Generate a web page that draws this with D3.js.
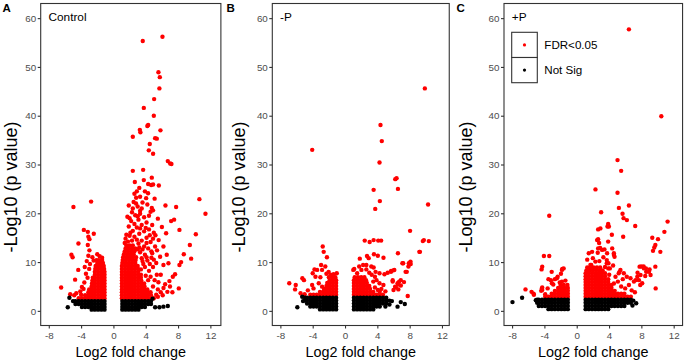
<!DOCTYPE html>
<html><head><meta charset="utf-8">
<script src="https://cdn.jsdelivr.net/npm/d3@7"></script>
<style>body{margin:0;background:#fff}svg{display:block}text{font-family:'Liberation Sans',Arial,Helvetica,sans-serif}</style>
</head><body>
<svg id="chart" width="685" height="362"></svg>
<script>
// ---------------- data ----------------
const xTicks = [-8, -4, 0, 4, 8, 12];
const yTicks = [0, 10, 20, 30, 40, 50, 60];
const panelLetters = ["A", "B", "C"];
const panelTitles = ["Control", "-P", "+P"];
const legendLabels = ["FDR<0.05", "Not Sig"];
const xLabel = "Log2 fold change";
const yLabel = "-Log10 (p value)";

// Dense regions are written as rows: [log10p, log2FC, log2FC, ...]
// Panel A – Control
const ctrlNSRows = [
 [0.25, -1.1,-1.5,-1.9,-2.3,-2.7, 1.1,1.5,1.9,2.3,2.7,3.1],
 [0.8, -1.1,-1.5,-1.9,-2.3,-2.7,-3.1,-3.5,-3.9, 1.1,1.5,1.9,2.3,2.7,3.1,3.5,3.9],
 [1.4, -1.1,-1.5,-1.9,-2.3,-2.7,-3.1,-3.5,-3.9,-4.3,-4.7, 1.1,1.5,1.9,2.3,2.7,3.1,3.5,3.9,4.3,4.65],
 [2.0, -1.1,-1.5,-1.9,-2.3,-2.7,-3.1,-3.5,-3.9,-4.3,-4.7,-5.0, 1.1,1.5,1.9,2.3,2.7,3.1,3.5,3.9,4.3,4.65]
];
const ctrlNSPts = [[-5.45,2.7],[-5.65,0.75],[4.85,2.5],[5.16,0.74],[5.69,0.74],[6.19,0.86],[6.73,1.0]];
const ctrlSigRows = [
 [2.6, -1.1,-1.5,-1.9,-2.3,-2.7,-3.1,-3.5,-3.9,-4.3, 1.05,1.45,1.85,2.25,2.65,3.05,3.45,3.85,4.25,4.65,5.0],
 [3.2, -1.1,-1.5,-1.9,-2.3,-2.7,-3.1,-3.5, 1.05,1.45,1.85,2.25,2.65,3.05,3.45,3.85,4.25,4.65],
 [3.8, -1.1,-1.5,-1.9,-2.3,-2.7,-3.1, 1.05,1.45,1.85,2.25,2.65,3.05,3.45,3.85,4.25,4.6],
 [4.4, -1.1,-1.5,-1.9,-2.3,-2.7,-3.0, 1.05,1.45,1.85,2.25,2.65,3.05,3.45,3.85,4.2],
 [5.0, -1.1,-1.5,-1.9,-2.3,-2.7, 1.05,1.45,1.85,2.25,2.65,3.05,3.45,3.85],
 [5.6, -1.1,-1.5,-1.9,-2.3,-2.65, 1.05,1.45,1.85,2.25,2.65,3.05,3.45,3.8],
 [6.2, -1.1,-1.5,-1.9,-2.3,-2.6, 1.05,1.45,1.85,2.25,2.65,3.05,3.45],
 [6.8, -1.1,-1.5,-1.9,-2.3,-2.55, 1.05,1.45,1.85,2.25,2.65,3.05,3.4],
 [7.4, -1.1,-1.5,-1.9,-2.3, 1.05,1.45,1.85,2.25,2.65,3.05,3.4],
 [8.0, -1.1,-1.5,-1.9,-2.3, 1.05,1.45,1.85,2.25,2.65,3.05],
 [8.6, -1.15,-1.5,-1.9,-2.25, 1.05,1.45,1.85,2.25,2.65,3.05],
 [9.2, -1.2,-1.55,-1.9,-2.2, 1.05,1.45,1.85,2.25,2.65,3.0],
 [9.8, -1.3,-1.65,-2.0, 1.1,1.5,1.9,2.3,2.7],
 [10.4, -1.4,-1.8,-2.1, 1.15,1.55,1.95,2.35,2.75],
 [11.0, 1.2,1.6,2.0,2.4,2.8],
 [11.6, 1.3,1.7,2.1,2.5],
 [12.2, 1.4,1.8,2.2,2.6],
 [12.8, 1.5,1.9,2.3,2.7],
 [13.4, 1.6,2.0,2.4]
];
const ctrlSigPts = [
 [-4.95,21.3],[-2.76,22.4],[-3.66,16.6],[-3.17,16.2],[-2.43,15.8],[-2.97,14.7],[-3.17,13.5],[-4.33,13.8],[-2.97,12.4],[-3.1,15.2],
 [-5.2,11.5],[-5.05,11.0],[-4.35,8.4],[-4.74,6.4],[-6.47,4.8],[-3.1,11.3],[-2.6,11.0],[-1.7,11.2],[-2.0,11.6],[-3.3,10.2],
 [-2.9,9.6],[-3.0,8.6],[-3.4,7.6],[-3.2,6.8],[-3.6,5.8],[-3.9,4.9],[-4.1,4.0],[-3.7,4.5],[-4.6,3.6],[-4.85,3.2],[-5.35,3.4],
 [-4.0,3.3],[-1.4,10.9],[-2.45,10.3],[-3.55,9.0],
 [3.4,8.5],[3.7,9.6],[3.5,10.8],[3.9,11.5],[3.3,12.0],[4.2,10.3],[4.4,8.2],[4.0,7.2],[4.3,6.3],[3.8,13.2],[3.1,13.8],[2.9,14.6],
 [3.5,14.4],[2.3,14.4],[1.8,14.2],[2.6,15.2],[2.0,15.4],[3.2,15.8],[4.1,15.0],[4.6,14.1],[3.8,16.3],[2.4,16.4],[2.9,17.1],[1.9,17.3],
 [3.5,17.6],[4.4,16.7],[2.2,18.4],[3.1,18.7],[2.7,19.6],[3.8,19.2],[4.1,18.1],[1.73,19.3],[2.3,20.2],[3.3,20.5],[4.6,20.3],[3.0,21.4],
 [2.5,22.3],[3.6,22.2],[4.75,21.1],[4.9,20.6],[2.81,23.2],[3.3,23.4],[4.05,23.1],[2.9,24.5],[4.29,24.1],[4.67,25.8],[4.91,25.9],
 [5.62,25.7],[2.65,26.4],[3.76,26.8],[4.75,27.3],[2.4,28.7],[3.68,28.9],[6.73,30.7],[7.02,30.2],[7.18,30.1],[4.38,32.9],[4.91,32.2],
 [4.5,34.2],[5.16,35.4],[5.37,35.3],[2.4,35.7],[3.27,37.1],[3.34,36.6],[5.82,37.0],[4.3,38.1],[4.2,37.9],[5.0,40.0],[3.76,41.6],
 [5.04,43.4],[5.69,45.6],[5.74,47.9],[5.57,48.9],[3.63,55.3],[6.07,56.2],
 [10.64,22.9],[6.44,21.6],[7.76,21.3],[11.39,19.9],[7.14,18.4],[7.51,18.7],[8.17,16.6],[6.52,15.9],[10.2,15.7],[9.46,13.5],
 [8.71,11.6],[9.62,10.7],[8.17,9.4],[8.38,10.0],[8.09,4.6],[5.16,13.2],[6.19,13.2],[5.78,11.1],[6.6,11.5],[6.19,9.4],[6.81,9.75],
 [5.37,7.4],[5.86,7.4],[5.57,5.86],[6.4,5.45],[6.93,6.1],[7.35,6.99],[7.63,7.5],[5.86,3.8],[6.68,3.9],[5.3,3.3],[5.5,4.4],[4.9,5.0],
 [5.1,6.3],[4.6,7.0],[4.9,9.0],[5.3,9.8],[4.8,11.8],[5.4,12.4],[5.6,14.5],[5.0,16.0],[6.0,17.2],[7.0,5.0],[6.2,4.7],[7.3,3.8],
 [5.5,2.9],[6.1,3.2],
 [1.5,14.8],[2.1,16.0],[1.6,15.6],[2.6,17.8],[3.3,16.9],[4.0,17.0],[3.0,19.4],[2.0,19.0],[3.5,21.0],[2.8,22.0],[4.2,21.8],
 [4.4,19.5],[1.4,13.9],[3.2,13.0],[3.6,12.6],[4.3,12.8],[4.7,12.2],[3.0,12.6],[4.1,13.9],[4.9,14.8],[5.2,15.5],[4.5,15.5],
 [3.3,19.9],[2.4,21.0],[1.9,21.6],[2.6,24.0],[3.9,24.5],[3.2,25.2],[4.3,26.0],[5.1,23.0],[4.8,17.6],[5.5,18.9],[3.6,10.2],
 [3.9,9.0],[4.5,9.6],[4.1,11.0],[5.0,10.5],[4.7,10.9]
];

// Panel B – -P
const minusNSRows = [
 [0.3, -1.1,-1.5,-1.9,-2.3,-2.7,-3.1, 1.1,1.5,1.9,2.3,2.7,3.1,3.5],
 [0.9, -1.1,-1.5,-1.9,-2.3,-2.7,-3.1,-3.5,-3.9,-4.3, 1.1,1.5,1.9,2.3,2.7,3.1,3.5,3.9,4.3],
 [1.5, -1.1,-1.5,-1.9,-2.3,-2.7,-3.1,-3.5,-3.9,-4.3,-4.7, 1.1,1.5,1.9,2.3,2.7,3.1,3.5,3.9,4.3,4.7,5.1],
 [2.1, -1.1,-1.5,-1.9,-2.3,-2.7,-3.1,-3.5,-3.9,-4.3,-4.7,-4.95, 1.1,1.5,1.9,2.3,2.7,3.1,3.5,3.9,4.3,4.7,5.1,5.5],
 [2.7, -1.1,-1.5,-1.9,-2.3,-2.7,-3.1,-3.5,-3.9,-4.3,-4.7,-4.95, 1.1,1.5,1.9,2.3,2.7,3.1,3.5,3.9,4.3,4.7,5.1]
];
const minusNSPts = [[-5.9,0.74],[-5.3,2.9],[-5.2,2.0],[5.8,2.0],[5.5,1.3],[5.0,0.9],[6.9,1.8],[7.4,1.4],[6.5,0.86]];
const minusSigRows = [
 [3.3, -1.1,-1.5,-1.9,-2.3,-2.7,-3.1,-3.5,-3.9, 1.1,1.5,1.9,2.3,2.7,3.1,3.5,3.9,4.3,4.7],
 [3.9, -1.1,-1.5,-1.9,-2.3,-2.7,-3.1, 1.1,1.5,1.9,2.3,2.7,3.1,3.5],
 [4.5, -1.1,-1.5,-1.9,-2.3,-2.6, 1.1,1.5,1.9,2.3,2.7,3.1],
 [5.1, -1.1,-1.5,-1.9,-2.3, 1.1,1.5,1.9,2.3,2.7,3.0],
 [5.7, -1.1,-1.5,-1.9,-2.2, 1.1,1.5,1.9,2.3,2.7],
 [6.3, -1.1,-1.5,-1.9, 1.1,1.5,1.9,2.3,2.6],
 [6.9, -1.2,-1.6,-2.0, 1.2,1.6,2.0,2.4]
];
const minusSigPts = [
 [-4.06,33.0],[-2.76,13.2],[-2.64,12.1],[-2.24,11.0],[-2.96,9.4],[-3.78,8.5],[-3.45,8.4],[-2.44,9.1],[-2.03,8.0],[-1.42,7.5],
 [-1.02,7.7],[-3.05,6.9],[-3.66,7.0],[-4.07,5.3],[-5.08,6.3],[-5.28,6.7],[-6.9,5.65],[-6.1,5.3],[-6.18,4.4],[-5.5,3.6],[-3.25,5.65],
 [-2.84,4.96],[-2.3,7.6],[-1.8,7.4],[-4.0,7.7],[-2.84,8.4],[-4.6,4.2],[-3.9,4.6],[-5.0,3.4],[-4.3,3.3],
 [9.88,45.6],[4.39,38.1],[4.55,34.8],[4.27,30.4],[6.38,27.2],[6.22,27.0],[6.55,25.0],[3.54,24.8],[4.31,22.5],[10.28,21.8],
 [3.74,20.9],[8.05,16.4],[2.44,14.4],[3.54,14.5],[4.11,14.4],[4.47,14.4],[3.05,14.1],[9.63,14.3],[9.76,14.5],[10.37,14.3],
 [9.27,12.1],[2.72,11.25],[2.93,10.8],[3.58,11.6],[4.06,11.3],[4.76,10.9],[6.55,11.8],[1.83,10.7],[1.14,8.6],[2.24,9.4],
 [3.54,8.9],[5.69,8.0],[6.0,8.3],[7.2,9.75],[8.13,9.6],[7.85,9.1],[7.64,8.0],[6.59,5.4],[6.91,5.2],[7.3,5.9],[6.3,4.8],[6.6,4.4],
 [5.9,6.3],[5.9,6.0],[7.76,3.05],[1.02,8.4],[1.5,7.7],[2.03,8.4],[2.64,8.5],[2.64,9.4],[3.25,9.1],[3.78,8.0],[4.27,7.7],[4.88,7.5],
 [5.28,7.8],[5.7,8.2],[6.1,8.4],[7.1,9.75],[7.9,9.75],[8.1,10.1],[7.5,8.0],[6.5,5.65],[6.2,4.96],[6.0,4.28],[6.7,6.0],[6.9,6.3],
 [4.27,5.65],[4.07,4.28],[4.75,5.3],[3.9,6.3],[3.5,6.0],[1.75,9.1],[9.2,12.1],[3.7,7.0],[3.3,7.4],[3.0,7.8],[4.5,4.5],[5.0,4.0],
 [3.7,4.8],[4.3,3.9]
];

// Panel C – +P
const plusNSRows = [
 [0.35, -1.1,-1.5,-1.9,-2.3,-2.7,-3.1,-3.5, 1.1,1.5,1.9,2.3,2.7,3.1,3.5,3.9],
 [1.0, -1.1,-1.5,-1.9,-2.3,-2.7,-3.1,-3.5,-3.9,-4.3,-4.7, 1.1,1.5,1.9,2.3,2.7,3.1,3.5,3.9,4.3,4.7,5.1,5.5,5.9],
 [1.65, -1.1,-1.5,-1.9,-2.3,-2.7,-3.1,-3.5,-3.9,-4.3,-4.7,-4.9, 1.1,1.5,1.9,2.3,2.7,3.1,3.5,3.9,4.3,4.7,5.1,5.5,5.9,6.3,6.7],
 [2.3, -1.1,-1.5,-1.9,-2.3,-2.7,-3.1,-3.5,-3.9,-4.3,-4.7,-4.9, 1.1,1.5,1.9,2.3,2.7,3.1,3.5,3.9,4.3,4.7,5.1,5.5,5.9,6.3,6.7]
];
const plusNSPts = [[-7.95,1.8],[-6.76,2.7],[-5.06,2.2],[7.36,1.55],[7.0,2.1],[6.9,1.1]];
const plusSigRows = [
 [2.9, -1.1,-1.5,-1.9,-2.3,-2.7,-3.1,-3.5,-3.9, 1.1,1.5,1.9,2.3,2.7,3.1,3.5,3.9,4.3,4.7,5.1,5.5,5.9,6.3,6.7],
 [3.5, -1.1,-1.5,-1.9,-2.3,-2.7,-3.1, 1.1,1.5,1.9,2.3,2.7,3.1,3.5,3.9,4.3,4.7,5.1,5.5,5.9],
 [4.1, -1.1,-1.5,-1.9,-2.3,-2.7, 1.1,1.5,1.9,2.3,2.7,3.1,3.5,3.9,4.3,4.7],
 [4.7, -1.1,-1.5,-1.9,-2.3, 1.1,1.5,1.9,2.3,2.7,3.1,3.5,3.9,4.3],
 [5.3, -1.15,-1.6,-2.0, 1.1,1.5,1.9,2.3,2.7,3.1,3.5,3.9,4.3],
 [5.9, 1.1,1.5,1.9,2.3,2.7,3.1,3.5,3.9],
 [6.5, 1.1,1.5,1.9,2.3,2.7,3.1,3.5,3.9],
 [7.1, 1.1,1.5,1.9,2.3,2.7,3.1,3.5],
 [7.7, 1.1,1.5,1.9,2.3,2.7,3.1,3.5],
 [8.3, 1.2,1.6,2.0,2.4,2.8,3.2],
 [8.9, 1.3,1.7,2.1,2.5,2.9]
];
const plusSigPts = [
 [-3.4,19.5],[-4.06,11.25],[-3.4,11.25],[-4.27,9.06],[-4.35,8.5],[-3.1,8.0],[-1.79,8.6],[-1.95,7.6],[-3.5,6.5],[-2.7,6.5],
 [-2.36,7.0],[-6.34,4.4],[-5.59,3.9],[-5.3,3.3],[-4.27,4.8],[-4.27,4.3],[-1.83,8.4],[-1.62,8.7],[-2.45,6.7],[-1.83,6.0],
 [-3.2,6.3],[-3.07,5.65],[-5.34,3.5],[-4.31,4.6],[-4.4,4.1],[-3.6,4.6],[-3.9,3.4],[-2.9,5.4],[-1.4,6.2],[-2.1,5.8],
 [6.46,57.7],[10.47,39.9],[5.05,30.9],[5.5,28.7],[2.32,24.9],[5.05,24.2],[3.02,20.2],[5.22,21.1],[6.46,21.6],[5.67,19.9],
 [5.8,19.0],[6.21,18.6],[3.89,17.8],[3.81,17.3],[7.24,17.4],[11.25,18.3],[10.85,16.2],[2.65,16.7],[4.35,15.6],[5.75,15.2],
 [9.35,15.0],[10.06,14.7],[9.73,13.5],[9.6,13.0],[9.44,12.3],[10.35,12.1],[9.73,9.06],[9.77,4.6],[2.65,14.7],[2.77,13.9],
 [2.9,12.9],[2.6,11.9],[3.43,12.6],[4.6,11.8],[4.68,11.1],[3.93,9.75],[3.72,10.4],[3.72,9.75],[4.1,8.7],[4.02,7.4],[5.3,8.0],
 [7.53,7.8],[7.99,9.1],[8.28,9.1],[8.57,8.7],[8.48,7.15],[9.02,8.5],[7.86,5.3],[1.49,11.8],[1.9,12.1],[2.52,14.5],[2.65,12.8],
 [3.14,12.5],[3.76,11.8],[4.39,12.8],[4.6,11.5],[3.89,14.2],[2.93,16.9],[3.98,17.3],[1.69,9.4],[2.31,10.1],[7.78,9.06],
 [8.32,8.7],[8.6,8.0],[8.94,8.0],[9.14,7.35],[7.9,7.35],[7.5,7.0],[7.28,6.3],[7.08,6.0],[7.7,6.3],[6.66,6.7],[8.1,5.65],
 [5.41,8.4],[5.2,7.7],[5.83,7.7],[4.8,7.0],[6.46,5.3],[6.0,4.6],[5.5,5.0],[6.8,4.2],[7.2,3.8],[5.1,6.0],[4.6,5.6],[5.7,6.5],
 [6.2,7.0],[1.3,10.5],[2.0,10.8],[2.8,10.2],[3.3,11.0],[1.8,9.4],[3.5,9.0],[4.5,9.3],[3.9,8.7]
];

// ---------------- drawing ----------------
const expand = rows => rows.flatMap(r => r.slice(1).map(x => [x, r[0]]));
const sigData = [ctrlSigRows, minusSigRows, plusSigRows].map((r, i) => expand(r).concat([ctrlSigPts, minusSigPts, plusSigPts][i]));
const nsData = [ctrlNSRows, minusNSRows, plusNSRows].map((r, i) => expand(r).concat([ctrlNSPts, minusNSPts, plusNSPts][i]));

const geom = [
  {left: 40.7, xMax: 13.3, yTitleX: 11, letterX: 2.5},
  {left: 272.3, xMax: 12.9, yTitleX: 239, letterX: 226.5},
  {left: 504.0, xMax: 13.1, yTitleX: 465.5, letterX: 456.5}
];
const pxPerUnit = 8.08, plotTop = 3.5, plotBottom = 325.5, rPt = 2.2;
const svg = d3.select("#chart");
const RED = "#ff0000", BLACK = "#000000", AX = "#333333", TICKTXT = "#4d4d4d";

geom.forEach((g, i) => {
  const right = g.left + pxPerUnit * (g.xMax + 9);
  const x = d3.scaleLinear().domain([-9, g.xMax]).range([g.left, right]);
  const y = d3.scaleLinear().domain([-3, 63]).range([plotBottom, plotTop]);
  const clipId = "clip" + i;
  svg.append("clipPath").attr("id", clipId).append("rect")
    .attr("x", g.left).attr("y", plotTop).attr("width", right - g.left).attr("height", plotBottom - plotTop);
  const pts = svg.append("g").attr("clip-path", `url(#${clipId})`);
  pts.selectAll("circle.sig").data(sigData[i]).join("circle").attr("class", "sig")
    .attr("cx", d => x(d[0])).attr("cy", d => y(d[1])).attr("r", rPt).attr("fill", RED);
  pts.selectAll("circle.ns").data(nsData[i]).join("circle").attr("class", "ns")
    .attr("cx", d => x(d[0])).attr("cy", d => y(d[1])).attr("r", rPt).attr("fill", BLACK);

  svg.append("rect").attr("x", g.left).attr("y", plotTop).attr("width", right - g.left).attr("height", plotBottom - plotTop)
    .attr("fill", "none").attr("stroke", AX).attr("stroke-width", 1.1);

  const xa = svg.append("g").attr("transform", `translate(0,${plotBottom})`)
    .call(d3.axisBottom(x).tickValues(xTicks).tickSize(3).tickPadding(4.0).tickFormat(d => String(d)));
  const ya = svg.append("g").attr("transform", `translate(${g.left},0)`)
    .call(d3.axisLeft(y).tickValues(yTicks).tickSize(3).tickPadding(1.5).tickFormat(d => String(d)));
  [xa, ya].forEach(a => {
    a.select(".domain").remove();
    a.selectAll(".tick line").attr("stroke", AX).attr("stroke-width", 1.1);
    a.selectAll(".tick text").attr("fill", TICKTXT).style("font-size", "9.8px");
  });

  svg.append("text").attr("x", (g.left + right) / 2).attr("y", 357).attr("text-anchor", "middle")
    .style("font-size", "14.4px").attr("fill", "#000").text(xLabel);
  svg.append("text").attr("transform", `translate(${g.yTitleX},187) rotate(-90)`)
    .attr("text-anchor", "middle").attr("dy", "0.35em").style("font-size", "18px").attr("fill", "#000").text(yLabel);
  svg.append("text").attr("x", g.letterX).attr("y", 12).style("font-size", "11.5px").style("font-weight", "bold")
    .attr("fill", "#000").text(panelLetters[i]);
  svg.append("text").attr("x", g.left + 7.8).attr("y", 21).style("font-size", "11.8px").attr("fill", "#000")
    .text(panelTitles[i]);

  if (i === 2) {
    const lx = g.left + 7.7, ly = 32.3, kw = 25.6, kh = 25.2;
    [RED, BLACK].forEach((c, k) => {
      svg.append("rect").attr("x", lx).attr("y", ly + k * kh).attr("width", kw).attr("height", kh)
        .attr("fill", "#fff").attr("stroke", AX).attr("stroke-width", 1.1);
      svg.append("circle").attr("cx", lx + kw / 2).attr("cy", ly + k * kh + kh / 2).attr("r", 1.6).attr("fill", c);
      svg.append("text").attr("x", lx + kw + 7).attr("y", ly + k * kh + kh / 2).attr("dy", "0.36em")
        .style("font-size", "11.6px").attr("fill", "#000").text(legendLabels[k]);
    });
  }
});
</script>
</body></html>
